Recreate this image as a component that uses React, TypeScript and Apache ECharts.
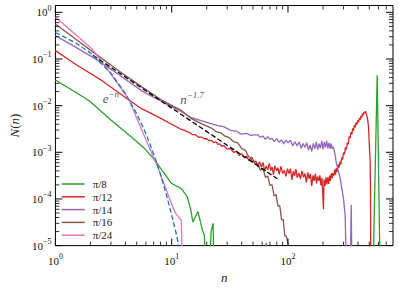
import React, { useEffect, useRef } from 'react';
import * as echarts from 'echarts';

const FONT = '"Liberation Serif", "DejaVu Serif", serif';

// ---- data: [n, N(n)] ----
const seriesNames = ['π/8', 'π/12', 'π/14', 'π/16', 'π/24'];

const pi8 = [
  [1, 0.0355], [1.5, 0.0191], [1.94, 0.0129], [3, 0.0049], [4.69, 0.00195], [5.85, 0.0012],
  [7.17, 6.8e-4], [8.2, 4.2e-4], [10, 2.14e-4], [12.1, 1.66e-4], [13.6, 1.12e-4], [14.6, 5.8e-5],
  [15.2, 3.2e-5], [16.8, 5.4e-5], [18.5, 2.0e-5], [19.1, 1.7e-5], [20.3, 1e-7], [21.8, 2.0e-5],
  [22.7, 3.0e-5], [23.7, 1e-7], [62, 1e-7], [65, 1.15e-5], [68, 1e-7], [530, 1e-7],
  [548, 2e-5], [585, 0.045], [612, 2e-5], [640, 1e-7], [800, 1e-7],
];

const pi12 = [
  [1, 0.151], [1.5, 0.0764], [2.5, 0.0347], [3.5, 0.0189], [5.5, 0.0086], [8, 0.0054], [12, 0.00312],
  [14, 2.7e-3], [15, 2.4e-3], [16, 2.38e-3], [17, 2.1e-3], [18, 2.12e-3], [19, 1.95e-3], [20, 1.96e-3],
  [21, 1.77e-3], [22, 1.8e-3], [23, 1.6e-3], [24, 1.68e-3], [25, 1.48e-3], [26, 1.52e-3], [27, 1.33e-3],
  [28, 1.4e-3], [30, 1.17e-3], [32, 1.2e-3], [34, 1.0e-3], [36, 1.04e-3], [38, 8.6e-4], [40, 9.3e-4],
  [42, 7.7e-4], [44, 8.3e-4], [46, 6.8e-4], [48, 7.4e-4], [50, 6.2e-4],
  [53, 6.5e-4], [55, 4.85e-4], [57, 6.3e-4], [59, 4.8e-4], [61, 6.05e-4], [63, 3.96e-4], [65, 5.1e-4],
  [67, 4.2e-4], [69, 5.8e-4], [71, 4.05e-4], [73, 4.9e-4], [75, 3.3e-4], [77, 5.1e-4], [80, 4.0e-4],
  [82, 4.65e-4], [84, 3.35e-4], [87, 5.0e-4], [90, 3.5e-4], [93, 4.1e-4], [96, 3.05e-4], [99, 4.45e-4],
  [102, 3.5e-4], [105, 4.45e-4], [108, 2.55e-4], [111, 3.95e-4], [114, 3.15e-4], [117, 4.35e-4],
  [120, 2.85e-4], [124, 3.6e-4], [128, 2.7e-4], [132, 4.0e-4], [136, 2.9e-4], [140, 3.5e-4],
  [144, 2.25e-4], [148, 3.7e-4], [152, 2.7e-4], [156, 3.45e-4], [160, 1.9e-4], [164, 3.2e-4],
  [168, 2.45e-4], [172, 3.5e-4], [176, 2.15e-4], [180, 3.05e-4], [184, 2.45e-4], [188, 3.2e-4],
  [192, 1.95e-4], [196, 2.85e-4], [200, 1.0e-4], [202, 6e-5], [204, 2.6e-4], [208, 1.9e-4],
  [212, 2.9e-4], [216, 2.05e-4], [220, 2.9e-4], [224, 2.1e-4], [228, 3.15e-4], [232, 2.45e-4],
  [236, 3.6e-4], [240, 2.8e-4], [244, 3.6e-4], [248, 3.15e-4], [252, 4.25e-4], [256, 3.3e-4],
  [260, 4.6e-4], [265, 3.8e-4], [270, 5.5e-4], [275, 4.7e-4], [280, 6.3e-4], [285, 5.5e-4],
  [290, 7.8e-4], [295, 7.0e-4], [300, 9.8e-4], [306, 9.0e-4], [312, 1.27e-3], [318, 1.15e-3],
  [324, 1.62e-3], [330, 1.5e-3], [336, 2.2e-3], [342, 2.0e-3], [348, 2.7e-3], [354, 2.43e-3],
  [360, 3.25e-3], [366, 2.9e-3], [372, 3.85e-3], [378, 3.4e-3], [385, 4.3e-3], [391, 3.9e-3],
  [398, 4.85e-3], [404, 4.35e-3], [411, 5.4e-3], [417, 4.95e-3], [424, 6.0e-3], [430, 5.5e-3],
  [437, 6.75e-3], [443, 6.2e-3], [450, 7.25e-3], [456, 6.9e-3], [462, 7.6e-3], [468, 7.0e-3],
  [474, 6.3e-3], [480, 5.6e-3], [486, 4.8e-3], [492, 3.6e-3], [498, 1.95e-3], [504, 1.0e-3],
  [508, 7.3e-4], [512, 2e-4], [515, 5e-6], [522, 1e-7], [800, 1e-7],
];

const pi14 = [
  [1, 0.316], [1.49, 0.179], [2.21, 0.1005], [3.06, 0.0585], [5.53, 0.0207], [9.96, 0.00955],
  [12.1, 0.0074], [14.8, 0.0055], [17.9, 0.00475], [24.9, 0.00372], [28, 3.55e-3], [32, 2.95e-3],
  [36, 2.85e-3], [39.4, 2.45e-3], [44, 2.55e-3], [48, 2.3e-3], [52, 2.36e-3],
  [55, 2.37e-3], [58, 2.07e-3], [61, 2.22e-3], [64, 1.9e-3], [67, 2.15e-3], [70, 1.89e-3], [73, 2.0e-3],
  [76, 1.69e-3], [80, 1.96e-3], [84, 1.64e-3], [88, 1.84e-3], [92, 1.52e-3], [96, 1.81e-3],
  [100, 1.59e-3], [105, 1.81e-3], [110, 1.39e-3], [115, 1.68e-3], [120, 1.36e-3], [125, 1.67e-3],
  [130, 1.21e-3], [135, 1.55e-3], [140, 1.26e-3], [145, 1.61e-3], [150, 1.12e-3], [155, 1.44e-3],
  [160, 1.04e-3], [165, 1.55e-3], [170, 1.19e-3], [175, 1.68e-3], [180, 1.14e-3], [185, 1.53e-3],
  [190, 1.22e-3], [195, 1.76e-3], [200, 1.16e-3], [205, 1.66e-3], [210, 1.27e-3], [215, 1.78e-3],
  [220, 1.21e-3], [225, 1.6e-3], [230, 1.18e-3], [235, 1.56e-3], [240, 1.19e-3], [245, 1.31e-3],
  [250, 1.09e-3], [255, 8.5e-4], [260, 6.0e-4], [265, 5.0e-4], [270, 4.1e-4], [280, 2.9e-4],
  [290, 1.7e-4], [300, 1.02e-4], [310, 4.5e-5], [320, 2e-6], [335, 1e-7], [350, 7.5e-5], [360, 1e-7],
  [800, 1e-7],
];

const pi16 = [
  [1, 0.562], [1.5, 0.264], [2.21, 0.1285], [3.5, 0.056], [5.53, 0.0252], [8, 0.0137], [9.96, 0.0101],
  [12.1, 0.00789], [14.8, 0.00525], [18, 4.1e-3], [21.9, 3.3e-3], [24, 2.78e-3], [26.6, 2.6e-3],
  [28.4, 2.25e-3], [31, 2.08e-3], [34, 1.7e-3], [37, 1.6e-3], [40, 1.2e-3], [43, 1.1e-3], [46, 7.9e-4],
  [49, 7.8e-4], [52, 5.6e-4], [55, 5.7e-4], [58, 4.1e-4], [61, 4.5e-4], [64, 2.9e-4], [67, 3.1e-4],
  [70, 1.95e-4], [73, 2.0e-4], [76, 1.15e-4], [79, 1.25e-4], [82, 7.0e-5], [85, 7.2e-5], [88, 3.6e-5],
  [91, 3.6e-5], [94, 1.6e-5], [97, 1.6e-5], [100, 1.1e-5], [103, 1e-7], [800, 1e-7],
];

const pi24 = [
  [1, 0.78], [1.5, 0.33], [2.07, 0.164], [3.06, 0.0442], [4.25, 0.014], [5.98, 0.0019], [7.67, 4.5e-4],
  [9.34, 1.2e-4], [10.6, 5.3e-5], [11.7, 3.8e-5], [12.1, 3.5e-5], [13, 1e-8],
];

// guide curves e^{-n} and n^{-1.7}
const expGuide = [
  [1, 0.37], [1.5, 0.22], [2, 0.135], [3, 0.05], [4, 0.018], [5, 0.0067], [6, 0.0025], [7, 9.1e-4],
  [8, 3.4e-4], [9, 1.23e-4], [10, 4.5e-5], [11, 1.7e-5], [12, 6.1e-6],
];
const powerGuide = [[2.1, 0.12], [81, 2.7e-4]];

// ticks
const xTickExps = [0, 1, 2];
const yTickExps = [-5, -4, -3, -2, -1, 0];
const minorMultipliers = [2, 3, 4, 5, 6, 7, 8, 9];

const X_MIN = 1;
const X_MAX = 800;
const Y_MIN = 1e-5;
const Y_MAX = 1.4;

const seriesData = [pi8, pi12, pi14, pi16, pi24];
const seriesColors = ['#2ca02c', '#d62728', '#9467bd', '#8c564b', '#e377c2'];

function powLabel(exps: number[]) {
  return (v: number) => {
    const e = Math.log10(v);
    const r = Math.round(e);
    if (Math.abs(e - r) > 1e-6 || !exps.includes(r)) return '';
    return `{b|10}{s|${r < 0 ? '\u2212' + -r : String(r)}}`;
  };
}

export default function App() {
  const ref = useRef<HTMLDivElement>(null);
  useEffect(() => {
    document.body.style.margin = '0';
    if (!ref.current) return;
    const chart = echarts.init(ref.current, undefined, { renderer: 'svg' });

    const xTicks: number[][] = [];
    xTickExps.forEach((e) => {
      xTicks.push([Math.pow(10, e), 1, 1]);
      minorMultipliers.forEach((m) => {
        const v = m * Math.pow(10, e);
        if (v < X_MAX) xTicks.push([v, 1, 0]);
      });
    });
    const yTicks: number[][] = [];
    yTickExps.forEach((e) => {
      yTicks.push([1, Math.pow(10, e), 1]);
      minorMultipliers.forEach((m) => {
        const v = m * Math.pow(10, e);
        if (v < Y_MAX) yTicks.push([1, v, 0]);
      });
    });

    const richLabel = {
      b: { fontFamily: FONT, fontSize: 11, color: '#111' },
      s: { fontFamily: FONT, fontSize: 8, color: '#111', padding: [0, 0, 8, 0] },
    };

    const lineSeries: any[] = seriesData.map((d, i) => ({
      type: 'line',
      name: seriesNames[i],
      data: d,
      showSymbol: false,
      symbol: 'none',
      clip: true,
      color: seriesColors[i],
      lineStyle: { width: 1.3, color: seriesColors[i] },
      z: 3,
    }));

    const option: any = {
      animation: false,
      textStyle: { fontFamily: FONT },
      grid: {
        left: 53, right: 6, top: 5.5, bottom: 41.7,
        show: true, borderColor: '#000', borderWidth: 1, backgroundColor: 'transparent',
      },
      legend: {
        data: seriesNames,
        orient: 'vertical',
        left: 61,
        top: 178.5,
        itemWidth: 23,
        itemHeight: 10,
        itemGap: 1.8,
        padding: 0,
        itemStyle: { opacity: 0, borderWidth: 0 },
        lineStyle: { width: 1.5 },
        textStyle: { fontFamily: FONT, fontSize: 11, color: '#222', padding: [0, 0, 0, 3] },
      },
      xAxis: {
        type: 'log', logBase: 10, min: X_MIN, max: X_MAX,
        axisLine: { show: false }, axisTick: { show: false }, splitLine: { show: false },
        axisLabel: { formatter: powLabel(xTickExps), margin: 7, rich: richLabel },
        name: 'n', nameLocation: 'middle', nameGap: 21,
        nameTextStyle: { fontFamily: FONT, fontStyle: 'italic', fontSize: 13, color: '#222' },
      },
      yAxis: {
        type: 'log', logBase: 10, min: Y_MIN, max: Y_MAX,
        axisLine: { show: false }, axisTick: { show: false }, splitLine: { show: false },
        axisLabel: { formatter: powLabel(yTickExps), margin: 4, rich: richLabel },
        name: '{i|N}{r|(}{i|n}{r|)}', nameLocation: 'middle', nameGap: 33, nameRotate: 90,
        nameTextStyle: {
          color: '#222',
          rich: {
            i: { fontFamily: FONT, fontStyle: 'italic', fontSize: 13, color: '#222' },
            r: { fontFamily: FONT, fontSize: 13, color: '#222' },
          },
        },
      },
      series: [
        ...lineSeries,
        {
          type: 'line', name: 'n^-1.7', data: powerGuide, showSymbol: false, symbol: 'none', clip: true,
          lineStyle: { width: 1.3, color: '#000', type: [5, 2.5] }, z: 4,
        },
        {
          type: 'line', name: 'e^-n', data: expGuide, showSymbol: false, symbol: 'none', clip: true,
          lineStyle: { width: 1.3, color: '#1f77b4', type: [5, 2.5] }, z: 4,
        },
        {
          type: 'scatter', name: 'annotations', silent: true, symbolSize: 1,
          itemStyle: { color: 'transparent' },
          data: [
            { value: [3.0, 0.014], label: { formatter: '{i|e}{s|\u2212n}' } },
            { value: [15, 0.0134], label: { formatter: '{i|n}{s|\u22121.7}' } },
          ],
          label: {
            show: true, position: 'inside', color: '#222',
            rich: {
              i: { fontFamily: FONT, fontStyle: 'italic', fontSize: 13, color: '#222' },
              s: { fontFamily: FONT, fontStyle: 'italic', fontSize: 9, color: '#222', padding: [0, 0, 9, 0] },
            },
          },
          z: 5,
        },
        {
          type: 'custom', name: 'xticks', silent: true, data: xTicks,
          renderItem: (params: any, api: any) => {
            const cs = params.coordSys;
            const px = api.coord([api.value(0), 1])[0];
            const len = api.value(2) ? 7 : 4;
            const w = api.value(2) ? 1 : 0.8;
            const bottom = cs.y + cs.height;
            return {
              type: 'group',
              children: [
                { type: 'line', shape: { x1: px, y1: bottom, x2: px, y2: bottom - len }, style: { stroke: '#000', lineWidth: w } },
                { type: 'line', shape: { x1: px, y1: cs.y, x2: px, y2: cs.y + len }, style: { stroke: '#000', lineWidth: w } },
              ],
            };
          },
          z: 6,
        },
        {
          type: 'custom', name: 'yticks', silent: true, data: yTicks,
          renderItem: (params: any, api: any) => {
            const cs = params.coordSys;
            const py = api.coord([1, api.value(1)])[1];
            const len = api.value(2) ? 7 : 4;
            const w = api.value(2) ? 1 : 0.8;
            const right = cs.x + cs.width;
            return {
              type: 'group',
              children: [
                { type: 'line', shape: { x1: cs.x, y1: py, x2: cs.x + len, y2: py }, style: { stroke: '#000', lineWidth: w } },
                { type: 'line', shape: { x1: right, y1: py, x2: right - len, y2: py }, style: { stroke: '#000', lineWidth: w } },
              ],
            };
          },
          z: 6,
        },
      ],
    };
    chart.setOption(option);
    return () => chart.dispose();
  }, []);
  return <div ref={ref} style={{ width: 399, height: 289 }} />;
}
